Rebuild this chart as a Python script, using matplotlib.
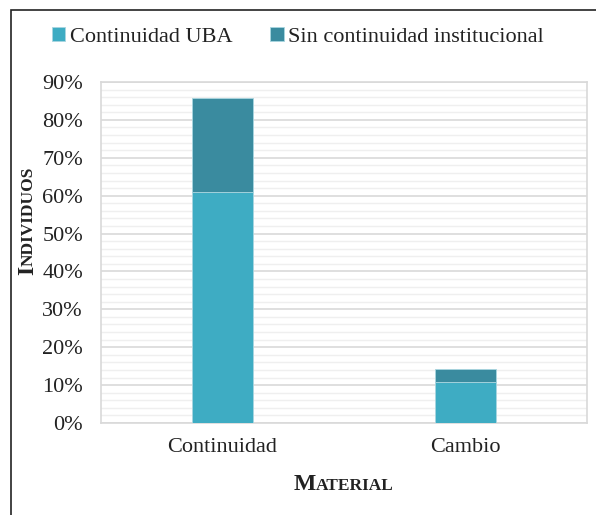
import matplotlib
matplotlib.use("Agg")
import matplotlib.pyplot as plt
from matplotlib.patches import Rectangle
from matplotlib.ticker import MultipleLocator, FuncFormatter

categories = ["Continuidad", "Cambio"]
series_names = ["Continuidad UBA", "Sin continuidad institucional"]
continuidad_uba = [61.0, 10.7]
sin_continuidad = [24.8, 3.5]
colors = ["#3EACC3", "#3A8B9F"]

plt.rcParams['font.family'] = ['Liberation Serif', 'DejaVu Serif']

W, H = 596, 515
fig = plt.figure(figsize=(W / 100, H / 100), dpi=100)
ax = fig.add_axes([101 / W, 1 - 423 / H, (587 - 101) / W, (423 - 82) / H])

x = list(range(len(categories)))
ax.bar(x, continuidad_uba, width=0.25, color=colors[0], edgecolor="#a9d6e0", linewidth=0.6,
       label=series_names[0], zorder=3)
ax.bar(x, sin_continuidad, width=0.25, bottom=continuidad_uba, color=colors[1],
       edgecolor="#a9d6e0", linewidth=0.6, label=series_names[1], zorder=3)

ax.set_xlim(-0.5, 1.5)
ax.set_ylim(0, 90)
ax.yaxis.set_major_locator(MultipleLocator(10))
ax.yaxis.set_minor_locator(MultipleLocator(2))
ax.yaxis.set_major_formatter(FuncFormatter(lambda v, p: f"{v:.0f}%"))
ax.grid(axis="y", which="major", color="#d9d9d9", linewidth=1.2, zorder=0)
ax.grid(axis="y", which="minor", color="#efefef", linewidth=1.0, zorder=0)
ax.set_axisbelow(True)
ax.set_xticks(x)
ax.set_xticklabels(categories)
ax.tick_params(axis="both", which="both", length=0, labelsize=16, colors="#222222")
ax.tick_params(axis="x", pad=11)
ax.tick_params(axis="y", pad=13)
for s in ax.spines.values():
    s.set_color("#d9d9d9")
    s.set_linewidth(1.2)

# Legend
leg = fig.legend(loc="upper center", bbox_to_anchor=(0.5, 1 - 7 / H), ncol=2, frameon=False,
                 fontsize=16, handlelength=0.6, handleheight=0.6, handletextpad=0.2,
                 columnspacing=1.7)
for t in leg.get_texts():
    t.set_color("#222222")

# Outer border
fig.add_artist(Rectangle((11 / W, -0.05), 1.2, 1 - 10 / H + 0.05, transform=fig.transFigure,
                         fill=False, edgecolor="#222222", linewidth=1.2))

# Small-caps axis titles
fig.canvas.draw()
renderer = fig.canvas.get_renderer()

def small_caps(xc, yc, big, small, rotation=0):
    kw = dict(fontweight="bold", color="#222222", rotation=rotation,
              rotation_mode="anchor", ha="left", va="baseline")
    t1 = fig.text(0, 0, big, fontsize=17, **kw)
    t2 = fig.text(0, 0, small, fontsize=12.5, **kw)
    e1 = t1.get_window_extent(renderer)
    e2 = t2.get_window_extent(renderer)
    if rotation == 0:
        total = e1.width + e2.width
        x0 = xc - total / 2
        t1.set_position((x0 / W, yc / H))
        t2.set_position(((x0 + e1.width) / W, yc / H))
    else:
        total = e1.height + e2.height
        y0 = yc - total / 2
        t1.set_position((xc / W, y0 / H))
        t2.set_position((xc / W, (y0 + e1.height) / H))

small_caps(344, H - 490, "M", "ATERIAL")
small_caps(33, H - 221, "I", "NDIVIDUOS", rotation=90)

fig.savefig("out.png", dpi=100)
